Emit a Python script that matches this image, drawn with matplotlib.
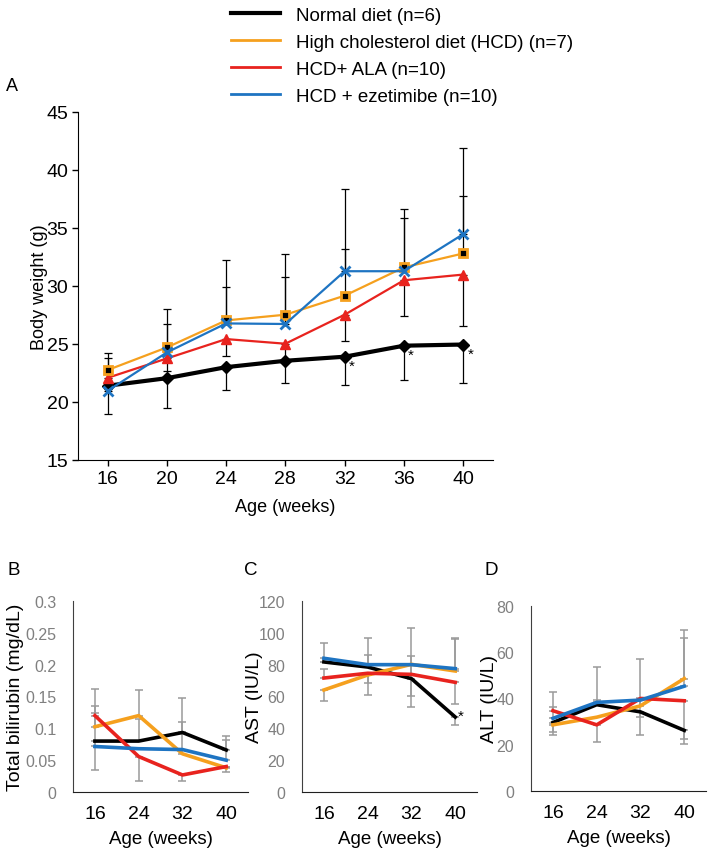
import matplotlib
matplotlib.use("Agg")
import matplotlib.pyplot as plt
from matplotlib.lines import Line2D

plt.rcParams['font.family'] = ['Liberation Sans', 'DejaVu Sans']

# ---- data ----
weeks_a = [16, 20, 24, 28, 32, 36, 40]
weeks_b = [16, 24, 32, 40]
groups = ["Normal diet (n=6)", "High cholesterol diet (HCD) (n=7)",
          "HCD+ ALA (n=10)", "HCD + ezetimibe (n=10)"]
colors = ["#000000", "#F5A01E", "#E8231E", "#1E74C2"]

# body weight (g)
bw_normal = [21.4, 22.05, 23.0, 23.55, 23.9, 24.85, 24.95]
bw_hcd = [22.75, 24.7, 27.03, 27.52, 29.16, 31.6, 32.8]
bw_ala = [22.08, 23.75, 25.42, 25.02, 27.52, 30.49, 30.98]
bw_eze = [20.96, 24.27, 26.77, 26.72, 31.27, 31.27, 34.46]
# error bars (lower, upper) for body weight
bw_err_normal = ([2.45, 2.55, 2.0, 1.9, 2.45, 2.95, 3.3], [0] * 7)
bw_err_hcd = ([0] * 7, [1.0, 2.05, 2.87, 3.23, 4.04, 4.3, 4.95])
bw_err_ala = ([1.0, 1.05, 1.45, 1.5, 2.25, 3.05, 4.4], [0] * 7)
bw_err_eze = ([0] * 7, [3.3, 3.73, 5.5, 6.0, 7.1, 5.4, 7.45])
bw_sig = [False, False, False, False, True, True, True]

# total bilirubin (mg/dL)
tb_normal = [0.080, 0.080, 0.0935, 0.066]
tb_hcd = [0.1025, 0.120, 0.060, 0.038]
tb_ala = [0.120, 0.0557, 0.0268, 0.040]
tb_eze = [0.0715, 0.068, 0.0667, 0.050]
tb_err_normal = ([0.045, 0, 0, 0], [0, 0.035, 0.016, 0.022])
tb_err_hcd = ([0, 0, 0, 0.007], [0.032, 0.040, 0.088, 0])
tb_err_ala = ([0, 0.038, 0.009, 0], [0.042, 0, 0, 0])
tb_err_eze = ([0, 0, 0, 0], [0.052, 0, 0, 0.032])

# AST (IU/L)
ast_normal = [81.7, 78.5, 71.2, 47.1]
ast_hcd = [64.1, 73.5, 80.2, 76.0]
ast_ala = [71.6, 74.6, 73.9, 68.9]
ast_eze = [84.0, 80.0, 80.0, 77.5]
ast_err_normal = ([0, 0, 18, 5], [0, 7.4, 0, 0])
ast_err_hcd = ([7, 12.5, 0, 0], [0, 0, 23, 20])
ast_err_ala = ([0, 6, 0, 13.4], [5.5, 0, 11.5, 0])
ast_err_eze = ([0, 0, 20, 0], [9.6, 17, 0, 19.2])
ast_sig = [False, False, False, True]

# ALT (IU/L)
alt_normal = [29.6, 37.3, 34.2, 26.2]
alt_hcd = [28.6, 31.9, 36.8, 48.6]
alt_ala = [34.7, 28.6, 40.0, 39.0]
alt_eze = [31.4, 38.3, 39.3, 45.3]
alt_err_normal = ([4, 0, 10, 6], [0, 16.2, 0, 0])
alt_err_hcd = ([4.4, 0, 0, 0], [0, 0, 20.3, 21])
alt_err_ala = ([0, 7.3, 8, 16.6], [8.3, 0, 0, 0])
alt_err_eze = ([0, 0, 0, 0], [5, 1, 0, 21])

fig = plt.figure(figsize=(7.09, 8.53), dpi=100)

# ---- panel A ----
ax = fig.add_axes([0.110, 0.4596, 0.585, 0.408])
xa = list(range(len(weeks_a)))
series_a = [bw_normal, bw_hcd, bw_ala, bw_eze]
errs_a = [bw_err_normal, bw_err_hcd, bw_err_ala, bw_err_eze]
lws = [3.0, 1.6, 1.6, 1.6]
for k in [0, 2, 1, 3]:
    ax.errorbar(xa, series_a[k], yerr=errs_a[k], fmt='none', ecolor='black',
                elinewidth=0.9, capsize=3, capthick=0.9, zorder=1)
for k in [0, 2, 1, 3]:
    if k == 1:
        ax.plot(xa, series_a[k], color=colors[k], lw=lws[k], marker='s', ms=6,
                mfc='black', mec=colors[k], mew=2, zorder=3)
    elif k == 2:
        ax.plot(xa, series_a[k], color=colors[k], lw=lws[k], marker='^', ms=7,
                mfc=colors[k], mec=colors[k], zorder=3)
    elif k == 3:
        ax.plot(xa, series_a[k], color=colors[k], lw=lws[k], marker='x', ms=7,
                mew=2, zorder=4)
    else:
        ax.plot(xa, series_a[k], color=colors[k], lw=lws[k], marker='D', ms=6,
                zorder=2)
for i, s in enumerate(bw_sig):
    if s:
        ax.text(xa[i] + 0.12, bw_normal[i] - 0.2, "*", fontsize=11, ha='center', va='top')
ax.set_xlim(-0.5, 6.5)
ax.set_ylim(15, 45)
ax.set_yticks(range(15, 46, 5))
ax.set_xticks(xa)
ax.set_xticklabels(weeks_a)
ax.tick_params(direction='out', length=4, width=1, labelsize=14, pad=3)
ax.spines['top'].set_visible(False)
ax.spines['right'].set_visible(False)
ax.set_ylabel("Body weight (g)", fontsize=13, labelpad=-1)
ax.set_xlabel("Age (weeks)", fontsize=13, labelpad=8)
fig.text(0.008, 0.893, "A", fontsize=13)

handles = [Line2D([], [], color=c, lw=w) for c, w in zip(colors, [3.0, 2, 2, 2])]
fig.legend(handles, groups, loc='upper left', bbox_to_anchor=(0.315, 0.9995),
           frameon=False, fontsize=13.5, handlelength=2.6, handletextpad=0.9,
           labelspacing=0.52, borderaxespad=0)


def small_panel(rect, data, errs, ylim, yticks, yfmt, ylabel, letter, lpos, ypad, sig=None):
    axs = fig.add_axes(rect)
    x = list(range(len(weeks_b)))
    for k in range(4):
        axs.errorbar(x, data[k], yerr=errs[k], fmt='none', ecolor='#9A9A9A',
                     elinewidth=1.1, capsize=3, capthick=1.1, zorder=1)
    for k in [0, 1, 2, 3]:
        axs.plot(x, data[k], color=colors[k], lw=2.6, zorder=2 + k)
    if sig:
        for i, s in enumerate(sig):
            if s:
                axs.text(x[i] + 0.12, data[0][i] + 1, "*", fontsize=11, ha='center', va='center')
    axs.set_xlim(-0.5, 3.5)
    axs.set_ylim(*ylim)
    axs.set_yticks(yticks)
    axs.set_yticklabels([yfmt(v) for v in yticks])
    axs.set_xticks(x)
    axs.set_xticklabels(weeks_b)
    axs.tick_params(axis='y', length=0, labelsize=11.5, labelcolor='#808080', pad=12)
    axs.tick_params(axis='x', length=0, labelsize=14, pad=9)
    axs.spines['top'].set_visible(False)
    axs.spines['right'].set_visible(False)
    axs.spines['left'].set_color('#404040')
    axs.spines['bottom'].set_color('#202020')
    axs.set_xlabel("Age (weeks)", fontsize=13.5, labelpad=6)
    axs.set_ylabel(ylabel, fontsize=14, labelpad=ypad)
    fig.text(lpos[0], lpos[1], letter, fontsize=13.5)
    return axs


def fmt_b(v):
    return "0" if v == 0 else ("%g" % v)


small_panel([0.103, 0.0703, 0.247, 0.224],
            [tb_normal, tb_hcd, tb_ala, tb_eze],
            [tb_err_normal, tb_err_hcd, tb_err_ala, tb_err_eze],
            (0, 0.3), [0, 0.05, 0.1, 0.15, 0.2, 0.25, 0.3], fmt_b,
            "Total bilirubin (mg/dL)", "B", (0.010, 0.326), 1)
small_panel([0.426, 0.0703, 0.247, 0.224],
            [ast_normal, ast_hcd, ast_ala, ast_eze],
            [ast_err_normal, ast_err_hcd, ast_err_ala, ast_err_eze],
            (0, 120), list(range(0, 121, 20)), lambda v: "%d" % v,
            "AST (IU/L)", "C", (0.344, 0.326), -3, sig=ast_sig)
small_panel([0.749, 0.0715, 0.247, 0.217],
            [alt_normal, alt_hcd, alt_ala, alt_eze],
            [alt_err_normal, alt_err_hcd, alt_err_ala, alt_err_eze],
            (0, 80), list(range(0, 81, 20)), lambda v: "%d" % v,
            "ALT (IU/L)", "D", (0.683, 0.326), -1)

fig.savefig("out.png", dpi=100)
